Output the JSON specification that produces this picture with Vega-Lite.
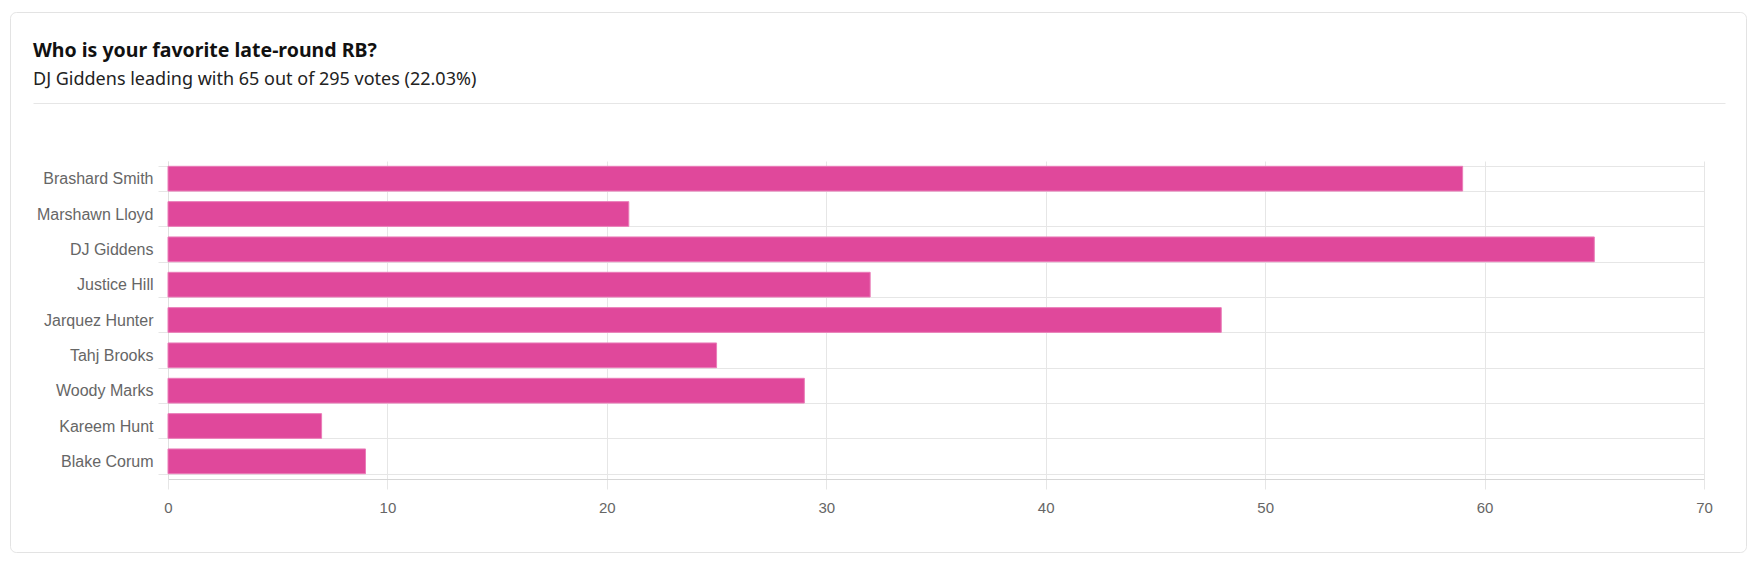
{
  "$schema": "https://vega.github.io/schema/vega-lite/v6.json",
  "width": 1736,
  "height": 540,
  "autosize": "none",
  "padding": {"left": 10, "top": 12, "right": 10, "bottom": 12},
  "background": "white",
  "title": {
    "text": "Who is your favorite late-round RB?",
    "subtitle": "DJ Giddens leading with 65 out of 295 votes (22.03%)",
    "anchor": "start",
    "frame": "group",
    "orient": "top",
    "dx": 23,
    "offset": -86,
    "font": "Noto Sans",
    "fontSize": 19.5,
    "fontWeight": "bold",
    "color": "#111111",
    "subtitleFont": "Noto Sans",
    "subtitleFontSize": 18,
    "subtitleColor": "#222222",
    "subtitlePadding": 10
  },
  "config": {
    "view": {"stroke": "#e3e3e3", "strokeWidth": 1, "cornerRadius": 6},
    "axis": {"labelFont": "Liberation Sans", "labelColor": "#666666"}
  },
  "datasets": {
    "votes": [
      {"name": "Brashard Smith", "votes": 59},
      {"name": "Marshawn Lloyd", "votes": 21},
      {"name": "DJ Giddens", "votes": 65},
      {"name": "Justice Hill", "votes": 32},
      {"name": "Jarquez Hunter", "votes": 48},
      {"name": "Tahj Brooks", "votes": 25},
      {"name": "Woody Marks", "votes": 29},
      {"name": "Kareem Hunt", "votes": 7},
      {"name": "Blake Corum", "votes": 9}
    ]
  },
  "layer": [
    {
      "data": {"name": "votes"},
      "mark": {"type": "bar", "color": "#e0489b", "stroke": "#ea7cb8", "strokeWidth": 1},
      "encoding": {
        "y": {
          "field": "name",
          "type": "nominal",
          "sort": null,
          "scale": {"range": [149, 467], "paddingInner": 0.3, "paddingOuter": 0.15},
          "axis": {
            "title": null,
            "orient": "left",
            "offset": -158,
            "tickBand": "extent",
            "grid": true,
            "gridColor": "#e6e6e6",
            "tickColor": "#e6e6e6",
            "tickSize": 10,
            "domainColor": "#e0e0e0",
            "labelFontSize": 16,
            "labelPadding": 5
          }
        },
        "x": {
          "field": "votes",
          "type": "quantitative",
          "scale": {"domain": [0, 70], "range": [158, 1694], "nice": false},
          "axis": {
            "title": null,
            "orient": "top",
            "values": [0, 10, 20, 30, 40, 50, 60, 70],
            "grid": true,
            "gridColor": "#e6e6e6",
            "ticks": false,
            "labels": false,
            "domain": false
          }
        }
      }
    },
    {
      "data": {"name": "votes"},
      "mark": {"type": "bar", "opacity": 0},
      "encoding": {
        "y": {"field": "name", "type": "nominal", "sort": null, "axis": null},
        "x": {
          "field": "votes",
          "type": "quantitative",
          "scale": {"domain": [0, 70], "range": [158, 1694], "nice": false},
          "axis": {
            "title": null,
            "orient": "bottom",
            "offset": -73,
            "values": [0, 10, 20, 30, 40, 50, 60, 70],
            "grid": false,
            "labelFlush": false,
            "tickColor": "#e6e6e6",
            "tickSize": 10,
            "domainColor": "#d6d6d6",
            "labelFontSize": 15,
            "labelPadding": 11
          }
        }
      }
    },
    {
      "data": {"values": []},
      "mark": {"type": "rule"},
      "encoding": {
        "x": {
          "field": "v",
          "type": "quantitative",
          "scale": {"domain": [0, 1], "range": [23, 1715], "nice": false},
          "axis": {
            "orient": "top",
            "offset": -91,
            "title": null,
            "domain": true,
            "domainColor": "#e6e6e6",
            "ticks": false,
            "labels": false,
            "grid": false
          }
        }
      }
    }
  ],
  "resolve": {
    "scale": {"x": "independent"},
    "axis": {"x": "independent", "y": "independent"}
  }
}
